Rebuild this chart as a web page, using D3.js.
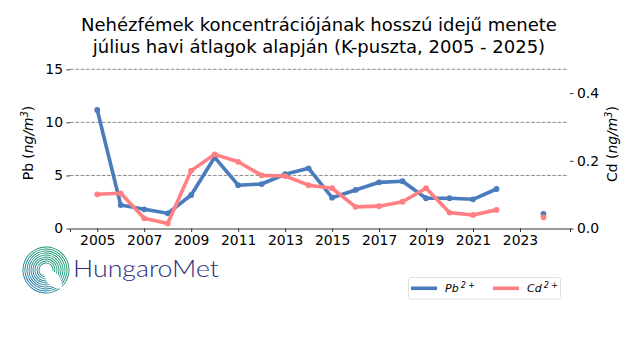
<!DOCTYPE html>
<html><head><meta charset="utf-8">
<script src="https://cdn.jsdelivr.net/npm/d3@7"></script>
<style>body{margin:0;background:#fff}svg{display:block}</style>
</head><body>
<svg id="c" width="640" height="360"></svg>
<script>
const years = [2005,2006,2007,2008,2009,2010,2011,2012,2013,2014,2015,2016,2017,2018,2019,2020,2021,2022,2023,2024];
const pb = [11.17,2.21,1.81,1.43,3.16,6.71,4.08,4.19,5.11,5.67,2.90,3.63,4.35,4.45,2.85,2.85,2.75,3.72,null,1.37];
const cd = [0.101,0.104,0.030,0.015,0.171,0.219,0.197,0.157,0.155,0.128,0.119,0.064,0.066,0.079,0.119,0.047,0.040,0.055,null,0.033];
const xTicks = [2005,2007,2009,2011,2013,2015,2017,2019,2021,2023];
const pbTicks = [0,5,10,15];
const cdTicks = [0,0.2,0.4];
const titleLines = ["Nehézfémek koncentrációjának hosszú idejű menete","július havi átlagok alapján (K-puszta, 2005 - 2025)"];
const blue = "#4a7bbd", pink = "#ff7f82";
const font = "DejaVu Sans, sans-serif";

const svg = d3.select("#c");
const x = d3.scaleLinear().domain([2003.84, 2025.13]).range([70, 570]);
const yL = d3.scaleLinear().domain([0, 15]).range([228.5, 69.3]);
const yR = d3.scaleLinear().domain([0, 0.4703]).range([228.5, 69.3]);

// title
svg.append("g").selectAll("text").data(titleLines).join("text")
  .attr("x", 319).attr("y", (d,i)=>30.5 + i*22.5).attr("text-anchor","middle")
  .attr("font-family", font).attr("font-size", 18).attr("fill","#000").text(d=>d);

// grid
svg.append("g").selectAll("line").data([5,10,15]).join("line")
  .attr("x1",70).attr("x2",567).attr("y1",d=>yL(d)).attr("y2",d=>yL(d))
  .attr("stroke","#7f7f7f").attr("stroke-width",0.9).attr("stroke-dasharray","3.7,1.6");

// axes
const fmt = d3.format(".1f");
const gx = svg.append("g").attr("transform","translate(0,228.5)")
  .call(d3.axisBottom(x).tickValues(xTicks).tickFormat(d3.format("d")).tickSizeOuter(0).tickSize(3.5).tickPadding(3.5));
const gl = svg.append("g").attr("transform","translate(70,0)")
  .call(d3.axisLeft(yL).tickValues(pbTicks).tickSizeOuter(0).tickSize(3.5).tickPadding(3.5));
gl.select(".domain").remove();
const gr = svg.append("g").attr("transform","translate(570,0)")
  .call(d3.axisRight(yR).tickValues(cdTicks).tickFormat(fmt).tickSizeOuter(0).tickSize(3.5).tickPadding(3.5));
gr.select(".domain").remove();
[gx,gl,gr].forEach(g=>{
  g.selectAll("text").attr("font-family",font).attr("font-size",13.9).attr("fill","#000");
  g.selectAll("line").attr("stroke","#000").attr("stroke-width",0.8);
  g.select(".domain").attr("stroke","#000").attr("stroke-width",0.8);
});

// axis labels
function ylabel(xp, yp, name){
  const t = svg.append("text").attr("transform",`translate(${xp},${yp}) rotate(-90)`)
    .attr("text-anchor","middle").attr("font-family",font).attr("font-size",13.9).attr("fill","#000");
  t.append("tspan").text(name + " (");
  t.append("tspan").attr("font-style","italic").text("ng/m");
  t.append("tspan").attr("font-style","italic").attr("font-size",9.7).attr("dy",-5).text("3");
  t.append("tspan").attr("dy",5).text(")");
}
ylabel(33, 143, "Pb");
ylabel(617, 144, "Cd");

// lines
function series(vals, y, color){
  const data = years.map((yr,i)=>({yr, v: vals[i]}));
  const line = d3.line().defined(d=>d.v!=null).x(d=>x(d.yr)).y(d=>y(d.v));
  svg.append("path").datum(data).attr("d",line).attr("fill","none")
    .attr("stroke",color).attr("stroke-width",3.6).attr("stroke-linejoin","round");
  svg.append("g").selectAll("circle").data(data.filter(d=>d.v!=null)).join("circle")
    .attr("cx",d=>x(d.yr)).attr("cy",d=>y(d.v)).attr("r",2.9).attr("fill",color);
}
series(pb, yL, blue);
series(cd, yR, pink);

// legend
const lg = svg.append("g");
lg.append("rect").attr("x",408.5).attr("y",277.5).attr("width",152).attr("height",21.5).attr("rx",2.5)
  .attr("fill","#fff").attr("stroke","#dcdcdc").attr("stroke-width",0.9);
[[blue,411,"Pb"],[pink,493,"Cd"]].forEach(([c,lx,name])=>{
  lg.append("line").attr("x1",lx).attr("x2",lx+26).attr("y1",288.3).attr("y2",288.3).attr("stroke",c).attr("stroke-width",3.6);
  lg.append("circle").attr("cx",lx+13).attr("cy",288.3).attr("r",1.6).attr("fill",c);
  const t = lg.append("text").attr("x",lx+34).attr("y",292).attr("font-family",font).attr("font-size",11).attr("font-style","italic");
  t.append("tspan").text(name);
  t.append("tspan").attr("font-size",8).attr("dy",-4.5).attr("dx",2).text("2 +");
});

// logo
const defs = svg.append("defs");
const grad2 = defs.append("linearGradient").attr("id","lgGrad2").attr("gradientUnits","userSpaceOnUse")
  .attr("x1",20).attr("y1",-22).attr("x2",-20).attr("y2",24);
grad2.append("stop").attr("offset","0%").attr("stop-color","#1aa05a");
grad2.append("stop").attr("offset","55%").attr("stop-color","#1a8a8a");
grad2.append("stop").attr("offset","100%").attr("stop-color","#2a6fc0");
const logo = svg.append("g").attr("transform","translate(46,270)");
const radii = d3.range(7,25,2);
radii.forEach((r,i)=>{
  const frac = i/(radii.length-1);
  logo.append("path").attr("d", d3.arc()({innerRadius:r-0.45, outerRadius:r+0.45,
      startAngle: Math.PI*(1.05 - 0.25*frac), endAngle: Math.PI*(2.55 + 0.2*frac)}))
    .attr("fill","url(#lgGrad2)");
});
svg.append("text").attr("x",73).attr("y",276.5).attr("font-family","Lato, sans-serif").attr("font-weight",300)
  .attr("font-size",23).attr("fill","#2b2f80").attr("textLength",146).attr("lengthAdjust","spacingAndGlyphs").text("HungaroMet");
</script>
</body></html>
